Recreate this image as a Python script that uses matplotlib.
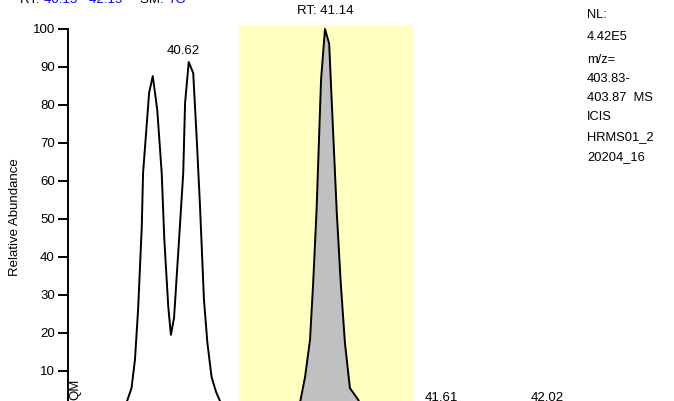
import matplotlib
matplotlib.use("Agg")
import matplotlib.pyplot as plt

plt.rcParams['font.family'] = ['Liberation Sans', 'DejaVu Sans']

# ---- data (retention time in min, relative abundance in %) ----
left_rt = [40.373, 40.385, 40.402, 40.415, 40.427, 40.441, 40.446, 40.469, 40.483,
           40.500, 40.517, 40.527, 40.542, 40.552, 40.564, 40.583, 40.599, 40.606,
           40.620, 40.637, 40.650, 40.663, 40.678, 40.691, 40.707, 40.724, 40.739, 40.754]
left_ab = [0, 2.1, 5.5, 12.9, 26.1, 47.9, 62.1, 83.2, 87.6,
           78.7, 62.1, 44.5, 26.9, 19.5, 24.0, 44.5, 62.1, 80.5,
           91.3, 88.4, 71.6, 53.2, 28.7, 17.4, 8.4, 4.5, 2.1, 0]

peak_rt = [41.036, 41.046, 41.063, 41.082, 41.094, 41.107, 41.124, 41.139, 41.155,
           41.165, 41.184, 41.199, 41.215, 41.234, 41.266, 41.280]
peak_ab = [0, 2.4, 8.4, 18.2, 33.2, 52.4, 86.6, 100.0, 96.1,
           80.5, 51.6, 33.2, 17.4, 5.5, 2.4, 0]

highlight = (40.811, 41.474)
yticks = [10, 20, 30, 40, 50, 60, 70, 80, 90, 100]

peak_labels = [("40.62", 40.600, 92.6), ("RT: 41.14", 41.139, 103.2)]
base_labels = [("41.61", 41.581), ("42.02", 41.985)]
info_lines = ["NL:", "4.42E5", "m/z=", "403.83-", "403.87  MS", "ICIS", "HRMS01_2", "20204_16"]

W, H = 674, 401
fig = plt.figure(figsize=(W / 100, H / 100), dpi=100)
ax = fig.add_axes([68 / W, 0, 520 / W, (H - 25) / H])
ax.set_xlim(40.16, 42.141)
ax.set_ylim(2.105, 101.05)

ax.axvspan(highlight[0], highlight[1], color='#FFFFBF', zorder=0, lw=0)
ax.fill_between(peak_rt, peak_ab, 0, color='#C0C0C0', zorder=1, lw=0)
ax.plot(peak_rt, peak_ab, color='black', lw=1.4, zorder=2)
ax.plot(left_rt, left_ab, color='black', lw=1.4, zorder=2)

for s in ['top', 'right', 'bottom']:
    ax.spines[s].set_visible(False)
ax.spines['left'].set_bounds(0, 100)
ax.spines['left'].set_linewidth(1.4)
ax.set_xticks([])
ax.set_yticks(yticks)
ax.tick_params(axis='y', length=7.5, width=1.4, pad=2, labelsize=9.5)

fig.text(15 / W, 1 - 217 / H, "Relative Abundance", rotation=90,
         ha='center', va='center', fontsize=9.5)

for txt, x, y in peak_labels:
    ax.text(x, y, txt, ha='center', va='bottom', fontsize=9.5)
for txt, x in base_labels:
    ax.text(x, 1.4, txt, ha='center', va='bottom', fontsize=9.5)

fig.text(75 / W, 1 - 389 / H, "QM", rotation=90, ha='center', va='center', fontsize=9.5)

ys = [15, 37, 60, 79, 98, 117, 137, 157]
for line, y in zip(info_lines, ys):
    fig.text(587 / W, 1 - y / H, line, ha='left', va='center', fontsize=9.3)

# header (mostly cut off at top, as in the reference)
hy = 1 - 3 / H
parts = [("RT: ", 'black', 20), ("40.15 - 42.15", 'blue', 44), ("SM: ", 'black', 140), ("7G", 'blue', 168)]
for txt, col, x in parts:
    fig.text(x / W, hy, txt, color=col, ha='left', va='baseline', fontsize=9.5)

fig.savefig("out.png", dpi=100)
